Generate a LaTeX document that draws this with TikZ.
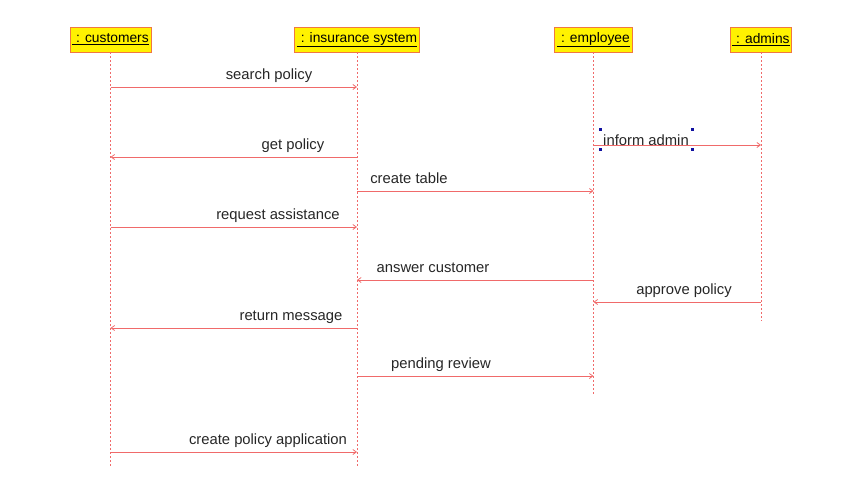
\documentclass[tikz,border=0pt]{standalone}
\usepackage{fontspec}
\setmainfont{Liberation Sans}
\usetikzlibrary{arrows.meta}
\definecolor{linered}{HTML}{F06A6A}
\definecolor{boxedge}{HTML}{F07840}
\definecolor{handle}{HTML}{1010A0}
\tikzset{
  head/.style={draw=boxedge, fill=yellow, line width=0.9pt, minimum height=25pt, inner xsep=1pt, font=\fontsize{13.8}{15}\selectfont},
  life/.style={draw=linered, dashed, dash pattern=on 2pt off 2pt, line width=0.7pt},
  msg/.style={draw=linered, line width=0.8pt, -{Straight Barb[length=3.5pt,width=5pt]}},
  lbl/.style={anchor=base, inner sep=0pt, font=\fontsize{14.8}{16}\selectfont, text=black!85},
  hnd/.style={fill=handle, minimum size=3pt, inner sep=0pt}
}
\begin{document}
\begin{tikzpicture}[x=1pt,y=-1pt]
\useasboundingbox (0,0) rectangle (846,493);
% heads
\node[head, minimum width=81pt] (c) at (110.5,39.5) {\underline{ : customers}};
\node[head, minimum width=125pt] (s) at (357,39.5) {\underline{ : insurance system}};
\node[head, minimum width=78pt] (e) at (593.5,39.5) {\underline{ : employee}};
\node[head, minimum width=61pt] (a) at (761,39.5) {\underline{ : admins}};
% lifeline ends
\coordinate (ce) at (110.5,468);
\coordinate (se) at (357,468);
\coordinate (ee) at (593.5,394);
\coordinate (ae) at (761,321);
\draw[life] (c) -- (ce);
\draw[life] (s) -- (se);
\draw[life] (e) -- (ee);
\draw[life] (a) -- (ae);
% messages
\draw[msg] (c |- 0,87) -- (s |- 0,87);
\node[lbl] (m1) at (269,79) {search policy};
\draw[msg] (s |- 0,157) -- (c |- 0,157);
\node[lbl] (m2) at (293,149) {get policy};
\draw[msg] (e |- 0,145) -- (a |- 0,145);
\node[lbl] (m3) at (646,145) {inform admin};
\node[hnd] (h1) at (600,129) {};
\node[hnd] (h2) at (692,129) {};
\node[hnd] (h3) at (600,149) {};
\node[hnd] (h4) at (692,149) {};
\draw[msg] (s |- 0,191) -- (e |- 0,191);
\node[lbl] (m4) at (409,183) {create table};
\draw[msg] (c |- 0,227) -- (s |- 0,227);
\node[lbl] (m5) at (278,219) {request assistance};
\draw[msg] (e |- 0,280) -- (s |- 0,280);
\node[lbl] (m6) at (433,272) {answer customer};
\draw[msg] (a |- 0,302) -- (e |- 0,302);
\node[lbl] (m7) at (684,294) {approve policy};
\draw[msg] (s |- 0,328) -- (c |- 0,328);
\node[lbl] (m8) at (291,320) {return message};
\draw[msg] (s |- 0,376) -- (e |- 0,376);
\node[lbl] (m9) at (441,368) {pending review};
\draw[msg] (c |- 0,452) -- (s |- 0,452);
\node[lbl] (m10) at (268,444) {create policy application};
\end{tikzpicture}
\end{document}
